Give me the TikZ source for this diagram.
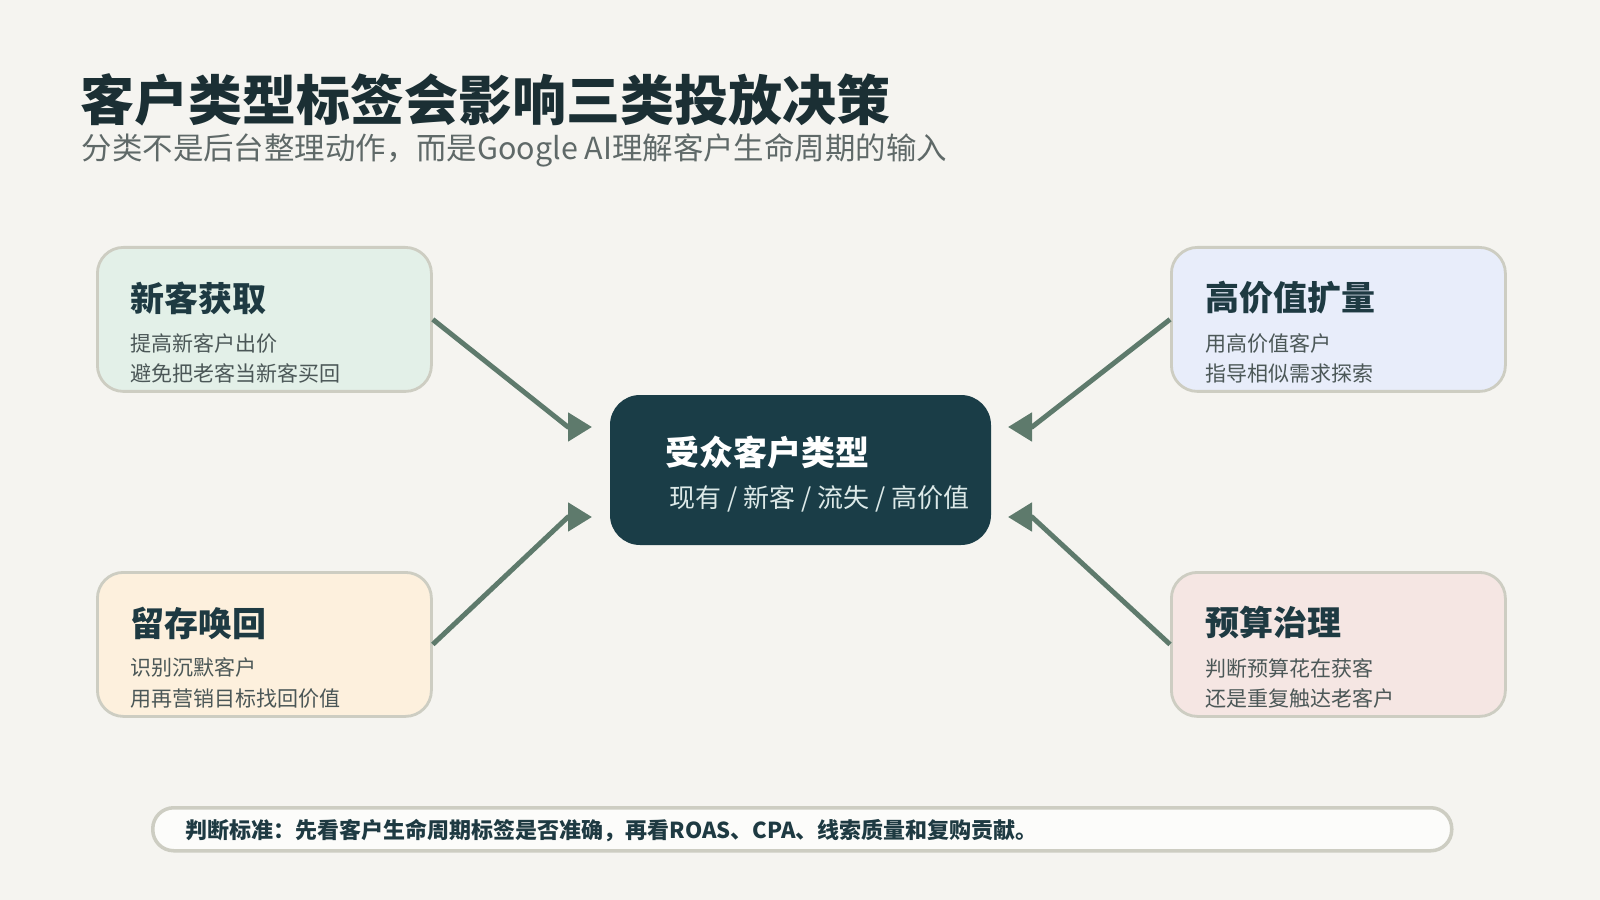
\documentclass[tikz,border=0pt]{standalone}
\usepackage{fontspec}
\setmainfont{Noto Sans CJK SC}
\usetikzlibrary{arrows.meta, positioning}

\definecolor{paper}{HTML}{F5F4F0}
\definecolor{headink}{HTML}{1B2F34}
\definecolor{subink}{HTML}{5F6968}
\definecolor{cardink}{HTML}{1E3A42}
\definecolor{bodyink}{HTML}{4B5757}
\definecolor{cardedge}{HTML}{CDCDC2}
\definecolor{linkgreen}{HTML}{5E7A6C}
\definecolor{corefill}{HTML}{1A3D47}
\definecolor{coresub}{HTML}{DCE9E8}
\definecolor{mintcard}{HTML}{E3F0E8}
\definecolor{bluecard}{HTML}{E8EDFA}
\definecolor{sandcard}{HTML}{FDF0DD}
\definecolor{rosecard}{HTML}{F5E6E3}

\begin{document}
\begin{tikzpicture}[x=0.1mm, y=-0.1mm,
  card/.style={draw=cardedge, line width=0.8pt, rounded corners=2.6mm,
    minimum width=33.4mm, minimum height=14.4mm, anchor=north west, inner sep=0pt},
  cardtitle/.style={anchor=west, inner sep=0pt, text=cardink,
    font=\fontsize{9.67pt}{11pt}\selectfont\bfseries},
  cardbody/.style={anchor=west, inner sep=0pt, text=bodyink, align=left,
    font=\fontsize{5.98pt}{8.54pt}\selectfont},
  link/.style={draw=linkgreen, line width=1.4pt,
    -{Triangle[length=2.4mm, width=2.8mm]}}]

  \fill[paper] (0,0) rectangle (1600,900);
  \useasboundingbox (0,0) rectangle (1600,900);

  % heading
  \node[anchor=west, inner sep=0pt, text=headink,
    font=\fontsize{15.36pt}{17pt}\selectfont\bfseries] (title) at (80,100)
    {客户类型标签会影响三类投放决策};
  \node[anchor=west, inner sep=0pt, text=subink,
    font=\fontsize{8.66pt}{10pt}\selectfont] (subtitle) at (81,150)
    {分类不是后台整理动作，而是Google AI理解客户生命周期的输入};

  % centre
  \node[fill=corefill, rounded corners=3mm, minimum width=38.1mm,
    minimum height=15mm, inner sep=0pt] (core) at (800.5,470) {};
  \node[anchor=west, inner sep=0pt, text=white,
    font=\fontsize{9.67pt}{11pt}\selectfont\bfseries] (core-t) at (665,452)
    {受众客户类型};
  \node[anchor=west, inner sep=0pt, text=coresub,
    font=\fontsize{7.4pt}{9pt}\selectfont] (core-s) at (669,499)
    {现有 / 新客 / 流失 / 高价值};

  % four cards
  \node[card, fill=mintcard] (xin) at (96,246) {};
  \node[cardtitle] (xin-t) at (130,298) {新客获取};
  \node[cardbody] (xin-b) at (130,358) {提高新客户出价\\避免把老客当新客买回};

  \node[card, fill=bluecard] (gao) at (1170,246) {};
  \node[cardtitle] (gao-t) at (1205,298) {高价值扩量};
  \node[cardbody] (gao-b) at (1205,358) {用高价值客户\\指导相似需求探索};

  \node[card, fill=sandcard] (liu) at (96,571) {};
  \node[cardtitle] (liu-t) at (130,623) {留存唤回};
  \node[cardbody] (liu-b) at (130,683) {识别沉默客户\\用再营销目标找回价值};

  \node[card, fill=rosecard] (yu) at (1170,571) {};
  \node[cardtitle] (yu-t) at (1205,623) {预算治理};
  \node[cardbody] (yu-b) at (1205,683) {判断预算花在获客\\还是重复触达老客户};

  % arrow heads sit level with the core
  \coordinate (xin-h) at (568,427);  \coordinate (xin-e) at (592,427);
  \coordinate (liu-h) at (568,517);  \coordinate (liu-e) at (592,517);
  \coordinate (gao-h) at (1032,427); \coordinate (gao-e) at (1008,427);
  \coordinate (yu-h)  at (1032,517); \coordinate (yu-e)  at (1008,517);

  \draw[link] (xin.east) -- (xin-h) -- (xin-e);
  \draw[link] (liu.east) -- (liu-h) -- (liu-e);
  \draw[link] (gao.west) -- (gao-h) -- (gao-e);
  \draw[link] (yu.west)  -- (yu-h)  -- (yu-e);

  % footnote bar
  \node[draw=cardedge, fill=white!70!paper, line width=1pt, rounded corners=2.1mm,
    minimum width=129.9mm, minimum height=4.3mm, anchor=north west,
    inner sep=0pt] (note) at (151,806) {};
  \node[anchor=west, inner sep=0pt, text=cardink,
    font=\fontsize{6.26pt}{8pt}\selectfont\bfseries] (note-t) at (185,831)
    {判断标准：先看客户生命周期标签是否准确，再看ROAS、CPA、线索质量和复购贡献。};
\end{tikzpicture}
\end{document}
